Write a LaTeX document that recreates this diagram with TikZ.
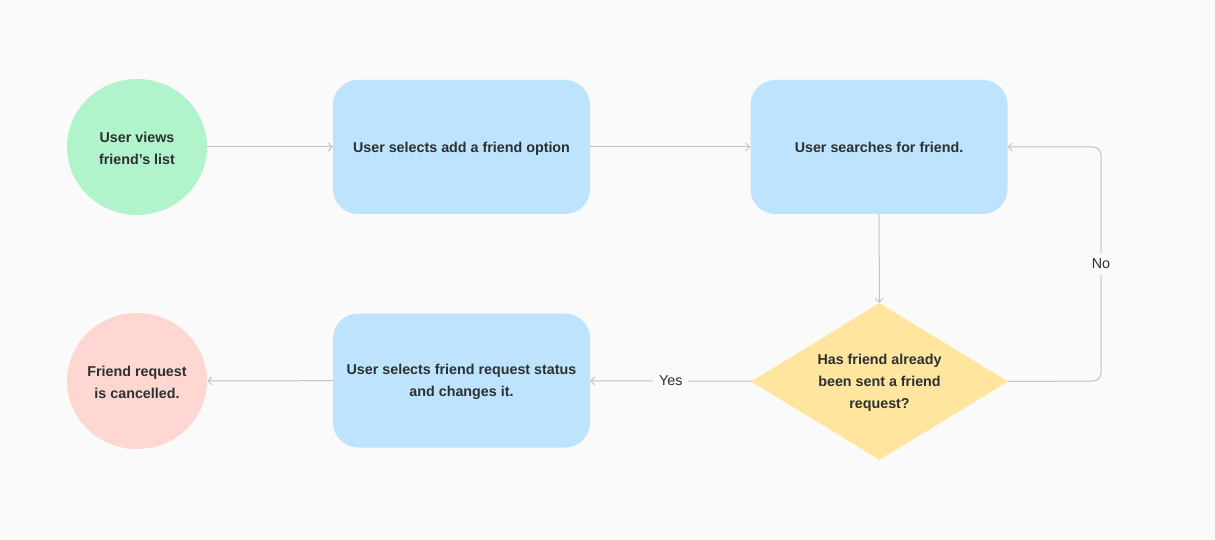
\documentclass[tikz,border=0pt]{standalone}
\usepackage{fontspec}
\setmainfont{Liberation Sans}
\usetikzlibrary{shapes.geometric,arrows.meta}
\definecolor{bg}{HTML}{FAFAFA}
\definecolor{cgreen}{HTML}{B1F3CA}
\definecolor{cblue}{HTML}{BEE3FC}
\definecolor{cyellow}{HTML}{FFE59D}
\definecolor{cred}{HTML}{FFD7D2}
\definecolor{ctext}{HTML}{2B3030}
\definecolor{cline}{HTML}{BDC3C3}
\tikzset{
  base/.style={text=ctext, font=\fontsize{14.3}{22}\selectfont\bfseries, align=center, inner sep=0pt},
  oneline/.style={base, text height=10pt, text depth=0pt},
  circ/.style={base, ellipse, minimum width=140pt, minimum height=136pt},
  box/.style={base, rounded corners=25pt, minimum width=257pt, minimum height=134pt},
  dia/.style={base, diamond, minimum width=257pt, minimum height=157pt, aspect=1.64},
  conn/.style={draw=cline, line width=1pt, -{Straight Barb[length=4pt,width=8pt,line width=0.9pt]}},
  lbl/.style={fill=bg, text=ctext, font=\fontsize{14.3}{16}\selectfont, inner sep=6pt}
}
\begin{document}
\begin{tikzpicture}[x=1pt,y=-1pt]
\fill[bg] (0,0) rectangle (1215,540);
\useasboundingbox (0,0) rectangle (1215,540);
\node[circ, fill=cgreen] (start) at (137,147) {};
\node[base] (startt) at (137,148.5) {User views\\friend’s list};
\node[box, fill=cblue] (add) at (461.5,147) {};
\node[oneline] (addt) at (461.5,148) {User selects add a friend option};
\node[box, fill=cblue] (search) at (879,147) {};
\node[oneline] (searcht) at (879,148) {User searches for friend.};
\node[dia, fill=cyellow] (dec) at (879.5,381.5) {};
\node[base] (dect) at (879.5,382.5) {Has friend already\\been sent a friend\\request?};
\node[box, fill=cblue] (status) at (461.5,380.5) {};
\node[base] (statust) at (461.5,382) {User selects friend request status\\and changes it.};
\node[circ, fill=cred] (end) at (137,381) {};
\node[base] (endt) at (137,382.5) {Friend request\\is cancelled.};
\coordinate (c1) at (1101,381);
\coordinate (c2) at (1101,147);
\draw[conn] (start) -- (add);
\draw[conn] (add) -- (search);
\draw[conn] (search) -- (dec);
\draw[conn] (dec) -- node[lbl] {Yes} (status);
\draw[conn] (status) -- (end);
\draw[conn, rounded corners=8pt] (dec.east) -- (c1) -- node[lbl, pos=0.5] {No} (c2) -- (search.east);
\end{tikzpicture}
\end{document}
